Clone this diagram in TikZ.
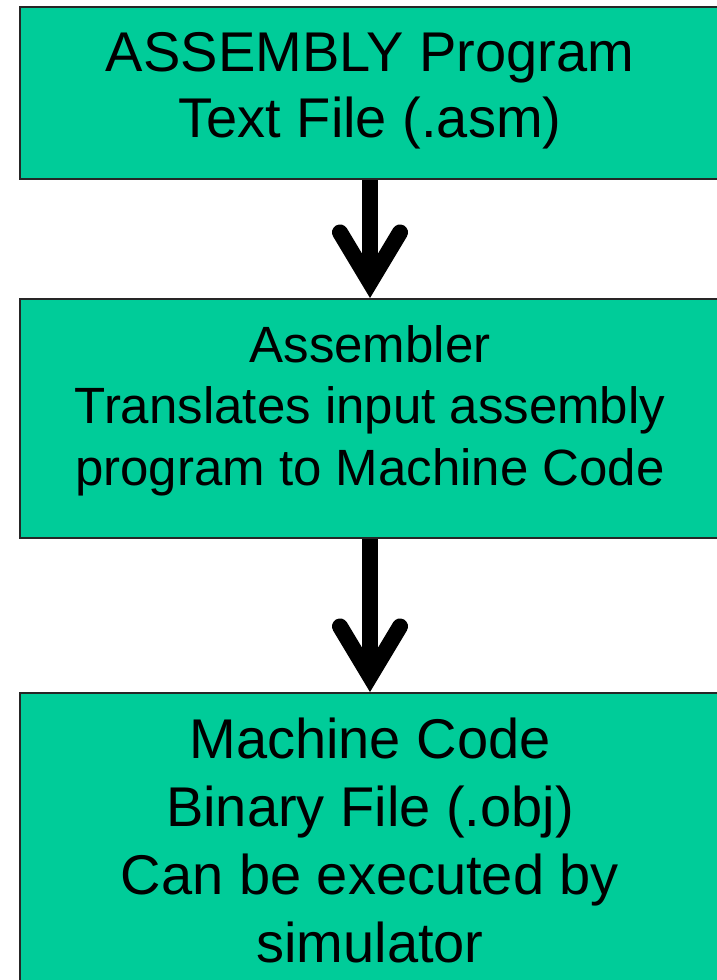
\documentclass[tikz,border=0pt]{standalone}
\usepackage{fontspec}
\setmainfont{Liberation Sans}
\usetikzlibrary{arrows.meta}
\definecolor{boxgreen}{HTML}{00CC99}
\begin{document}
\begin{tikzpicture}[x=1pt,y=-1pt,
  flowbox/.style={draw=black!85, line width=2pt, fill=boxgreen, rectangle,
    minimum width=700pt, inner sep=0pt},
  boxtext/.style={align=center, inner sep=0pt, anchor=north, text=black},
  bigtext/.style={boxtext, font=\fontsize{56pt}{66pt}\selectfont},
  midtext/.style={boxtext, font=\fontsize{51pt}{61.5pt}\selectfont},
  lowtext/.style={boxtext, font=\fontsize{56pt}{68pt}\selectfont},
  flowarrow/.style={line width=16pt,
    -{Straight Barb[length=50pt, width=60pt, line cap=round, line join=miter]}}]
\useasboundingbox (0,0) rectangle (717,980);
\clip (0,0) rectangle (717,980);
\fill[white] (0,0) rectangle (717,980);
\node[flowbox, minimum height=172pt] (b1) at (370,93) {};
\node[flowbox, minimum height=239pt] (b2) at (370,418.5) {};
\node[flowbox, minimum height=320pt] (b3) at (370,853) {};
\node[bigtext] (t1) at (370,32) {ASSEMBLY Program\\Text File (.asm)};
\node[midtext] (t2) at (370,325) {Assembler\\Translates input assembly\\program to Machine Code};
\node[lowtext] (t3) at (370,718) {Machine Code\\Binary File (.obj)\\Can be executed by\\simulator};
\draw[flowarrow] (b1.south) -- (b2.north);
\draw[flowarrow] (b2.south) -- (b3.north);
\end{tikzpicture}
\end{document}
